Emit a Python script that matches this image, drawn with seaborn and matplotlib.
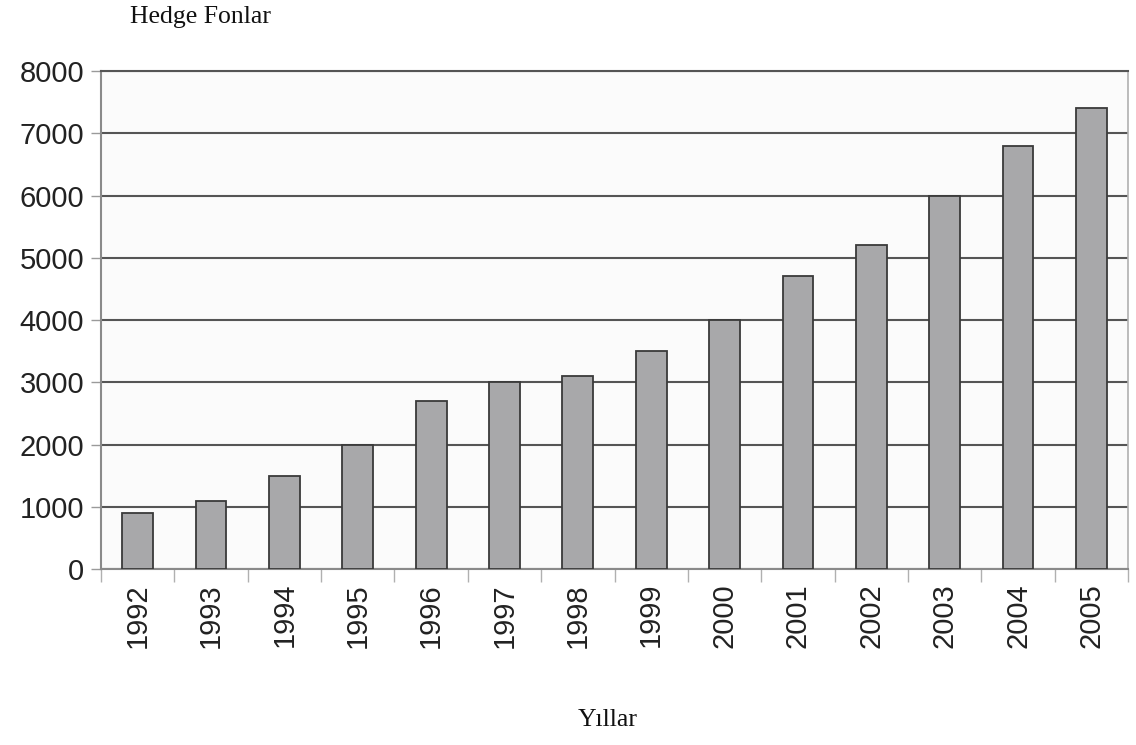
import matplotlib
matplotlib.use("Agg")
import matplotlib.pyplot as plt
import seaborn as sns
import pandas as pd
import numpy as np

years = ["1992", "1993", "1994", "1995", "1996", "1997", "1998",
         "1999", "2000", "2001", "2002", "2003", "2004", "2005"]
funds = [900, 1100, 1500, 2000, 2700, 3000, 3100,
         3500, 4000, 4700, 5200, 6000, 6800, 7400]
y_ticks = [0, 1000, 2000, 3000, 4000, 5000, 6000, 7000, 8000]

df = pd.DataFrame({"year": years, "funds": funds})

sns.set_theme(style="white")
plt.rcParams["font.family"] = ["Liberation Sans", "DejaVu Sans"]

fig = plt.figure(figsize=(11.36, 7.45), dpi=100)
ax = fig.add_axes([0.0889, 0.2362, 0.9041, 0.6685])
ax.set_facecolor("#fbfbfb")

sns.barplot(data=df, x="year", y="funds", ax=ax, color="#a8a8aa",
            saturation=1, width=0.42, edgecolor="#3a3a3a", linewidth=1.3,
            zorder=3)

ax.set_ylim(0, 8000)
ax.set_xlim(-0.5, len(years) - 0.5)
ax.set_yticks(y_ticks)
ax.set_yticklabels([str(v) for v in y_ticks], fontsize=21, color="#222222")
ax.set_xticks(range(len(years)))
ax.set_xticklabels(years, rotation=90, fontsize=21, color="#222222")

# horizontal grid lines
ax.yaxis.grid(True, color="#555555", linewidth=1.5, zorder=1)
ax.xaxis.grid(False)
ax.set_axisbelow(True)

# tick marks: short ticks on y, separators between categories on x
ax.tick_params(axis="y", length=7, width=1, color="#9a9a9a", pad=5, left=True)
ax.tick_params(axis="x", which="major", length=0, pad=10)
ax.set_xticks(np.arange(-0.5, len(years), 1.0), minor=True)
ax.tick_params(axis="x", which="minor", length=9, width=1, color="#b0b0b0",
               bottom=True)

for side in ["left", "bottom", "right", "top"]:
    ax.spines[side].set_visible(True)
ax.spines["left"].set_color("#8a8a8a")
ax.spines["left"].set_linewidth(1.5)
ax.spines["bottom"].set_color("#8a8a8a")
ax.spines["bottom"].set_linewidth(1.5)
ax.spines["right"].set_color("#b0b0b0")
ax.spines["right"].set_linewidth(1.2)
ax.spines["top"].set_color("#555555")
ax.spines["top"].set_linewidth(1.5)

ax.set_xlabel("")
ax.set_ylabel("")

fig.text(0.1145, 0.977, "Hedge Fonlar", fontsize=18.5, family="Liberation Serif",
         ha="left", va="center", color="#111111")
fig.text(0.535, 0.034, "Yıllar", fontsize=18.5, family="Liberation Serif",
         ha="center", va="center", color="#111111")

fig.savefig("out.png", dpi=100, facecolor="white")
